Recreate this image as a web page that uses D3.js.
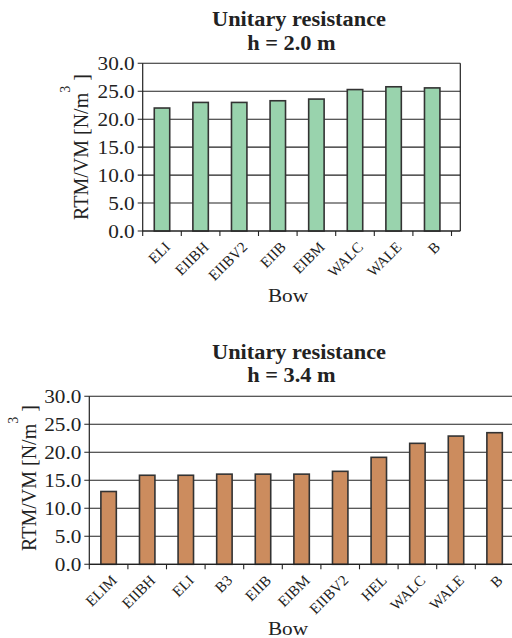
<!DOCTYPE html>
<html><head><meta charset="utf-8">
<script src="https://cdn.jsdelivr.net/npm/d3@7"></script>
<style>
html,body{margin:0;padding:0;background:#fff;}
svg{display:block;}
text{font-family:"Liberation Serif","Times New Roman",serif;fill:#222;}
</style></head>
<body><svg id="c" width="512" height="638"></svg>
<script>
// ---- data ----
const categoriesTop = ["ELI","EIIBH","EIIBV2","EIIB","EIBM","WALC","WALE","B"];
const valuesTop = [22.0, 23.0, 23.0, 23.3, 23.6, 25.3, 25.8, 25.6];
const categoriesBottom = ["ELIM","EIIBH","ELI","B3","EIIB","EIBM","EIIBV2","HEL","WALC","WALE","B"];
const valuesBottom = [13.0, 15.9, 15.9, 16.1, 16.1, 16.1, 16.6, 19.1, 21.6, 22.9, 23.5];
const yTickValues = [0, 5, 10, 15, 20, 25, 30];
const titleLine1 = "Unitary resistance";
const titleTop = "h = 2.0 m";
const titleBottom = "h = 3.4 m";
const xTitle = "Bow";

const svg = d3.select("#c");
const SX = 1.09; // horizontal stretch of the text in the reference

function chart(opts){
  const {cats, vals, left, top, height, step, plotW, fill, t1y, t2, border} = opts;
  const g = svg.append("g").attr("transform", `translate(${left},${top})`);
  const n = cats.length;
  const x = d3.scaleBand().domain(cats).range([0, n*step]).paddingInner(0.6).paddingOuter(0.3);
  const y = d3.scaleLinear().domain([0,30]).range([height,0]);

  g.selectAll("line.grid").data(yTickValues).join("line")
    .attr("x1",-5).attr("x2",plotW).attr("y1",d=>y(d)).attr("y2",d=>y(d))
    .attr("stroke","#222").attr("stroke-width",1.1);
  g.selectAll("text.yt").data(yTickValues).join("text")
    .attr("transform",d=>`translate(-8,${y(d)+6.5}) scale(${SX},1)`)
    .attr("text-anchor","end").attr("font-size",19.5)
    .text(d=>d3.format(".1f")(d));
  g.selectAll("rect.bar").data(cats).join("rect")
    .attr("x",d=>x(d)).attr("width",x.bandwidth())
    .attr("y",(d,i)=>y(vals[i])).attr("height",(d,i)=>height-y(vals[i]))
    .attr("fill",fill).attr("stroke","#333").attr("stroke-width",1.6);
  g.append("line").attr("x1",0).attr("x2",0).attr("y1",0).attr("y2",height).attr("stroke","#222").attr("stroke-width",1.2);
  g.append("line").attr("x1",0).attr("x2",plotW).attr("y1",height).attr("y2",height).attr("stroke","#222").attr("stroke-width",1.2);
  if(border){
    g.append("line").attr("x1",plotW).attr("x2",plotW).attr("y1",0).attr("y2",height).attr("stroke","#222").attr("stroke-width",1.2);
  }
  g.selectAll("line.xt").data(d3.range(n+1)).join("line")
    .attr("x1",i=>i*x.step()).attr("x2",i=>i*x.step())
    .attr("y1",height).attr("y2",height+5).attr("stroke","#222").attr("stroke-width",1.1);
  g.selectAll("text.xl").data(cats).join("text")
    .attr("transform",d=>`translate(${x(d)+x.bandwidth()/2+9},${height+17}) rotate(-45)`)
    .attr("text-anchor","end").attr("font-size",15)
    .text(d=>d);
  const yt = svg.append("text")
    .attr("transform",`translate(${opts.ylx},${opts.yly}) rotate(-90)`)
    .attr("text-anchor","middle").attr("font-size",20);
  yt.append("tspan").text("RTM/VM [N/m");
  yt.append("tspan").attr("font-size",14).attr("dy",-18).text("3");
  yt.append("tspan").attr("dy",18).text(" ]");
  svg.append("text").attr("transform",`translate(288,${opts.bowY}) scale(${SX},1)`)
    .attr("text-anchor","middle").attr("font-size",19.5).text(xTitle);
  svg.append("text").attr("transform",`translate(299,${t1y}) scale(${SX},1)`)
    .attr("text-anchor","middle").attr("font-size",20.5).attr("font-weight","bold").text(titleLine1);
  svg.append("text").attr("transform",`translate(291.5,${t1y+23.5}) scale(${SX},1)`)
    .attr("text-anchor","middle").attr("font-size",20.5).attr("font-weight","bold").text(t2);
}

chart({cats:categoriesTop, vals:valuesTop, left:142.7, top:63.3, height:167.7, step:38.6, plotW:317.6,
  fill:"#99d3ad", t1y:26, t2:titleTop, border:true, ylx:88, yly:147, bowY:301.5});
chart({cats:categoriesBottom, vals:valuesBottom, left:89.3, top:396.3, height:168, step:38.6, plotW:440,
  fill:"#cc8c5e", t1y:358.5, t2:titleBottom, border:false, ylx:36, yly:478, bowY:635});
</script></body></html>
